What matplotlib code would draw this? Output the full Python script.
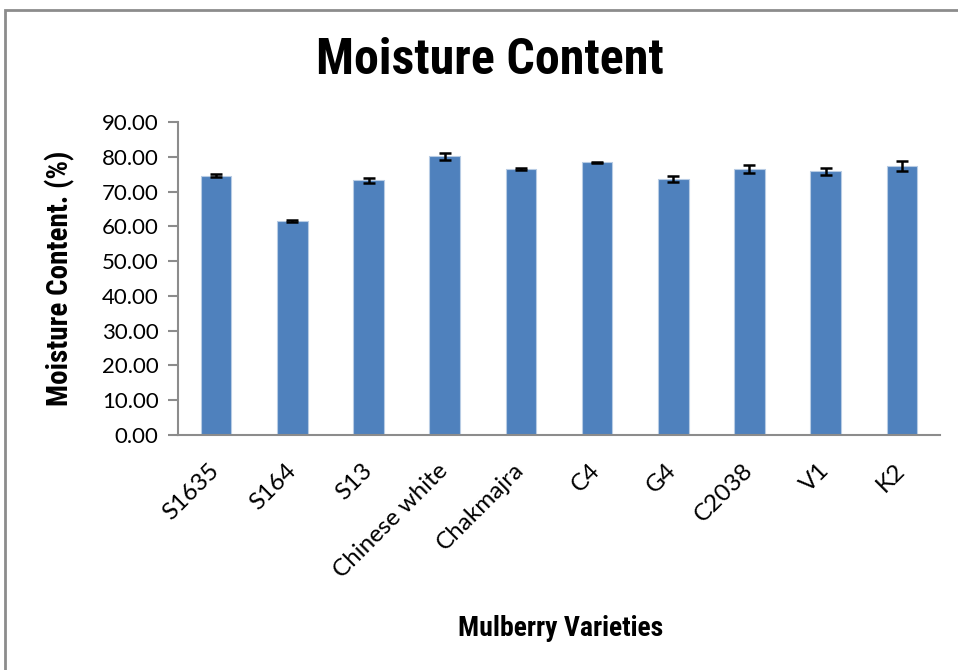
import matplotlib.pyplot as plt
import matplotlib.patches as patches

varieties = ["S1635", "S164", "S13", "Chinese white", "Chakmajra",
             "C4", "G4", "C2038", "V1", "K2"]
moisture = [74.6, 61.5, 73.2, 80.1, 76.5, 78.4, 73.6, 76.4, 75.8, 77.3]
moisture_err = [0.5, 0.2, 0.8, 1.0, 0.3, 0.2, 0.85, 1.1, 0.9, 1.5]
y_ticks = [0, 10, 20, 30, 40, 50, 60, 70, 80, 90]

W, H = 958, 670
NARROW = ["Roboto Condensed", "Liberation Sans Narrow", "Roboto"]
fig = plt.figure(figsize=(W / 100, H / 100), dpi=100)

# 外枠（左と上だけ見える）
frame = patches.Rectangle((5 / W, -0.1), 1.2, (H - 10) / H + 0.1,
                          transform=fig.transFigure, fill=False,
                          edgecolor="#8c8c8c", linewidth=2)
fig.patches.append(frame)

ax = fig.add_axes([178 / W, (H - 435) / H, (940 - 178) / W, (435 - 122) / H])

x = range(len(varieties))
ax.bar(x, moisture, width=0.4, color="#4F81BD", edgecolor="#b8cce4",
       linewidth=0.8, yerr=moisture_err, capsize=4.3,
       error_kw=dict(ecolor="black", elinewidth=1.8, capthick=1.8))

ax.set_xlim(-0.5, len(varieties) - 0.5)
ax.set_ylim(0, 90)
ax.set_yticks(y_ticks)
ax.set_yticklabels([f"{v:.2f}" for v in y_ticks], fontsize=16, family="Lato")
ax.set_xticks(list(x))
ax.set_xticklabels(varieties, rotation=45, ha="right", rotation_mode="anchor",
                   fontsize=17.5, family="Lato")
for lbl in ax.get_xticklabels():
    lbl.set_verticalalignment("center")
ax.tick_params(axis="x", length=0, pad=23)
ax.tick_params(axis="y", length=7, color="#8c8c8c", width=1.5, pad=7)

for side in ["top", "right"]:
    ax.spines[side].set_visible(False)
for side in ["left", "bottom"]:
    ax.spines[side].set_color("#8c8c8c")
    ax.spines[side].set_linewidth(1.5)

fig.text(490 / W, 1 - 60 / H, "Moisture Content", ha="center", va="center",
         fontsize=36, fontweight="bold", family=NARROW)
fig.text(60 / W, 1 - 278 / H, "Moisture Content. (%)", ha="center", va="center",
         rotation=90, fontsize=21, fontweight="bold", family=NARROW)
fig.text(561 / W, 1 - 628 / H, "Mulberry Varieties", ha="center", va="center",
         fontsize=20, fontweight="bold", family=NARROW)

fig.savefig("out.png", dpi=100)
